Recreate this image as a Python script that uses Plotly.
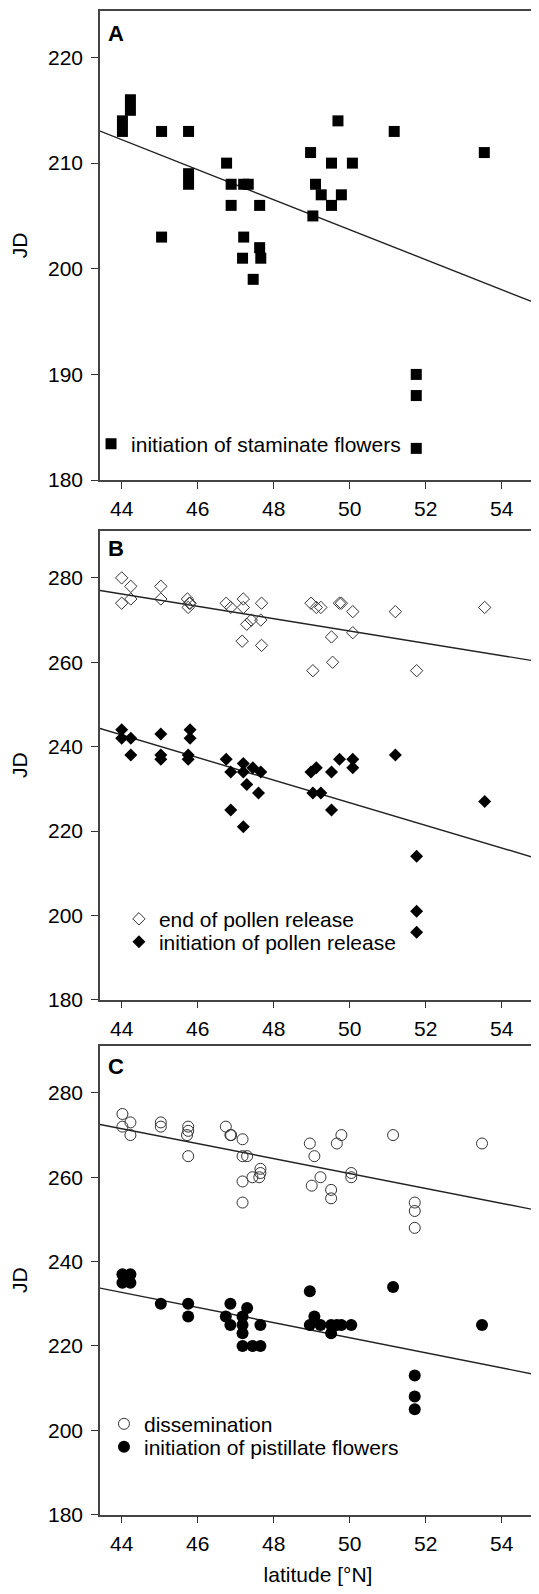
import numpy as np
import plotly.graph_objects as go

# ---------------- data ----------------
# Panel A: initiation of staminate flowers
lat_A = [44.02, 44.02, 44.23, 44.23, 45.05, 45.05, 45.76, 45.76, 45.76, 46.76,
         46.88, 46.88, 47.21, 47.33, 47.21, 47.63, 47.63, 47.18, 47.66, 47.46,
         51.75, 51.75, 51.75, 48.97, 49.10, 49.25, 49.03, 49.52, 49.69, 49.52,
         49.78, 50.07, 51.17, 53.54]
jd_A = [213, 214, 216, 215, 213, 203, 213, 209, 208, 210,
        208, 206, 208, 208, 203, 206, 202, 201, 201, 199,
        190, 188, 183, 211, 208, 207, 205, 210, 214, 206,
        207, 210, 213, 211]

# Panel B: end of pollen release (open diamonds)
lat_B_end = [44.00, 44.00, 44.24, 44.24, 45.03, 45.03, 45.73, 45.78, 45.75, 45.80,
             46.75, 46.87, 47.20, 47.20, 47.29, 47.41, 47.68, 47.66, 47.17, 47.68,
             48.98, 49.12, 49.24, 49.03, 49.52, 49.55, 49.73, 49.78, 50.08, 50.08,
             51.20, 51.76, 53.55]
jd_B_end = [280, 274, 278, 275, 278, 275, 275, 274, 273, 274,
            274, 273, 275, 273, 269, 270, 274, 270, 265, 264,
            274, 273, 273, 258, 266, 260, 274, 274, 272, 267,
            272, 258, 273]

# Panel B: initiation of pollen release (filled diamonds)
lat_B_init = [44.00, 44.00, 44.24, 44.24, 45.03, 45.03, 45.03, 45.80, 45.80, 45.75,
              45.75, 46.75, 46.87, 46.87, 47.20, 47.20, 47.29, 47.20, 47.45, 47.66,
              47.60, 48.98, 49.12, 49.03, 49.24, 49.52, 49.52, 49.73, 50.08, 50.08,
              51.20, 53.55, 51.76, 51.76, 51.76]
jd_B_init = [244, 242, 242, 238, 243, 238, 237, 244, 242, 238,
             237, 237, 234, 225, 236, 234, 231, 221, 235, 234,
             229, 234, 235, 229, 229, 234, 225, 237, 237, 235,
             238, 227, 214, 201, 196]

# Panel C: dissemination (open circles)
lat_C_diss = [44.02, 44.02, 44.23, 44.23, 45.03, 45.03, 45.75, 45.75, 45.72, 45.75,
              46.74, 46.86, 46.88, 47.18, 47.18, 47.30, 47.18, 47.18, 47.44, 47.65,
              47.65, 47.62, 48.95, 49.07, 49.00, 49.23, 49.51, 49.51, 49.66, 49.78,
              50.04, 50.04, 51.14, 51.71, 51.71, 51.71, 53.48]
jd_C_diss = [275, 272, 273, 270, 273, 272, 272, 271, 270, 265,
             272, 270, 270, 269, 265, 265, 259, 254, 260, 262,
             261, 260, 268, 265, 258, 260, 257, 255, 268, 270,
             261, 260, 270, 254, 252, 248, 268]

# Panel C: initiation of pistillate flowers (filled circles)
lat_C_pist = [44.02, 44.23, 44.02, 44.23, 48.95, 51.14, 45.03, 45.75, 45.75, 46.86,
              46.74, 46.86, 47.18, 47.18, 47.18, 47.18, 47.30, 47.44, 47.65, 47.65,
              48.95, 49.07, 49.23, 49.51, 49.51, 49.66, 49.78, 50.04, 51.71, 51.71,
              51.71, 53.48]
jd_C_pist = [237, 237, 235, 235, 233, 234, 230, 230, 227, 230,
             227, 225, 227, 225, 223, 220, 229, 220, 220, 225,
             225, 227, 225, 223, 225, 225, 225, 225, 213, 208,
             205, 225]

# regression lines (intercept, slope)
fit_A = (274.70, -1.42)
fit_B_end = (340.41, -1.46)
fit_B_init = (360.69, -2.68)
fit_C_diss = (349.39, -1.77)
fit_C_pist = (311.46, -1.79)

x_ticks = [44, 46, 48, 50, 52, 54]
y_ticks_A = [180, 190, 200, 210, 220]
y_ticks_BC = [180, 200, 220, 240, 260, 280]

# ---------------- figure ----------------
FONT = "Liberation Sans, Arial, Helvetica, sans-serif"
FS = 21
XR = [43.43, 54.9]
xl = np.array(XR)

fig = go.Figure()

def line_trace(fit, xaxis, yaxis):
    b, m = fit
    return go.Scatter(x=xl, y=b + m * xl, mode="lines", xaxis=xaxis, yaxis=yaxis,
                      line=dict(color="#222", width=1.4), showlegend=False,
                      hoverinfo="skip")

# Panel A
fig.add_trace(line_trace(fit_A, "x", "y"))
fig.add_trace(go.Scatter(x=lat_A, y=jd_A, mode="markers", xaxis="x", yaxis="y",
                         name="initiation of staminate flowers", legend="legend",
                         marker=dict(symbol="square", size=11, color="black",
                                     line=dict(width=0))))
# Panel B
fig.add_trace(line_trace(fit_B_end, "x2", "y2"))
fig.add_trace(line_trace(fit_B_init, "x2", "y2"))
fig.add_trace(go.Scatter(x=lat_B_end, y=jd_B_end, mode="markers", xaxis="x2", yaxis="y2",
                         name="end of pollen release", legend="legend2",
                         marker=dict(symbol="diamond-open", size=9.5, color="#333",
                                     line=dict(width=1, color="#333"))))
fig.add_trace(go.Scatter(x=lat_B_init, y=jd_B_init, mode="markers", xaxis="x2", yaxis="y2",
                         name="initiation of pollen release", legend="legend3",
                         marker=dict(symbol="diamond", size=10, color="black",
                                     line=dict(width=0))))
# Panel C
fig.add_trace(line_trace(fit_C_diss, "x3", "y3"))
fig.add_trace(line_trace(fit_C_pist, "x3", "y3"))
fig.add_trace(go.Scatter(x=lat_C_diss, y=jd_C_diss, mode="markers", xaxis="x3", yaxis="y3",
                         name="dissemination", legend="legend4",
                         marker=dict(symbol="circle-open", size=11, color="#333",
                                     line=dict(width=1, color="#333"))))
fig.add_trace(go.Scatter(x=lat_C_pist, y=jd_C_pist, mode="markers", xaxis="x3", yaxis="y3",
                         name="initiation of pistillate flowers", legend="legend5",
                         marker=dict(symbol="circle", size=12, color="black",
                                     line=dict(width=0))))

# page has an 8 px body margin; figure is sized so page fits 539x1594
OFF = 8
W, H = 531, 1578
MT, MB, ML, MR = 2, 69, 92, 1
PH = H - MT - MB
PW = W - ML - MR

def dom(top_page, bot_page):
    t, b = top_page - OFF, bot_page - OFF
    return [max(0.0, (H - MB - b) / PH), min(1.0, (H - MB - t) / PH)]

def ly(page_y):
    return (H - MB - (page_y - OFF)) / PH

def lx(text_page_x):
    left = text_page_x - OFF - 41
    return (left - ML) / PW

dA = dom(10, 480)
dB = dom(530.7, 1000.7)
dC = dom(1046.7, 1516.7)

axis_common = dict(showline=True, linecolor="#444", linewidth=1.5, ticks="outside",
                   ticklen=7, tickwidth=1, tickcolor="#333", showgrid=False,
                   zeroline=False, tickfont=dict(family=FONT, size=FS, color="black"))

def xaxis(anchor, mirror):
    d = dict(axis_common)
    d.update(range=XR, tickvals=x_ticks, anchor=anchor, mirror=mirror,
             ticklabelstandoff=2)
    return d

def yaxis(anchor, rng, ticks, domain, mirror):
    d = dict(axis_common)
    d.update(range=rng, tickvals=ticks, anchor=anchor, domain=domain, mirror=mirror,
             ticklabelstandoff=4,
             title=dict(text="JD", font=dict(family=FONT, size=FS, color="black"),
                        standoff=18))
    return d

def leg(text_x, y):
    return dict(x=lx(text_x), y=ly(y), xanchor="left", yanchor="middle",
                bgcolor="rgba(0,0,0,0)", font=dict(family=FONT, size=FS, color="black"),
                itemwidth=30, tracegroupgap=0)

fig.update_layout(
    width=W, height=H,
    margin=dict(l=ML, r=MR, t=MT, b=MB),
    paper_bgcolor="white", plot_bgcolor="white",
    font=dict(family=FONT, size=FS, color="black"),
    xaxis=xaxis("y", True),
    yaxis=yaxis("x", [180, 224.4], y_ticks_A, dA, True),
    xaxis2=xaxis("y2", True),
    yaxis2=yaxis("x2", [180, 291.2], y_ticks_BC, dB, False),
    xaxis3=dict(xaxis("y3", True),
                title=dict(text="latitude [°N]", font=dict(family=FONT, size=FS, color="black"),
                           standoff=16)),
    yaxis3=yaxis("x3", [180, 291.2], y_ticks_BC, dC, False),
    legend=leg(132, 444),
    legend2=leg(160, 920),
    legend3=leg(160, 943),
    legend4=leg(145, 1426),
    legend5=leg(145, 1449),
    showlegend=True,
)

for label, xr, yr, yy in [("A", "x domain", "y domain", 0.951),
                          ("B", "x2 domain", "y2 domain", 0.961),
                          ("C", "x3 domain", "y3 domain", 0.955)]:
    fig.add_annotation(text="<b>%s</b>" % label, x=0.036, y=yy, xref=xr, yref=yr,
                       xanchor="center", yanchor="middle", showarrow=False,
                       font=dict(family=FONT, size=22, color="black"))

fig.write_html("out.html")
